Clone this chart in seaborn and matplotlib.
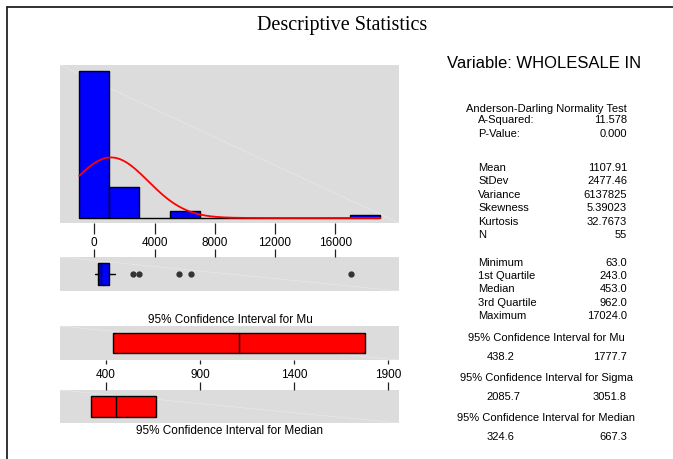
import numpy as np
import pandas as pd
import matplotlib
matplotlib.use("Agg")
import matplotlib.pyplot as plt
import seaborn as sns

# ---------------- data ----------------
bin_edges = [-1000, 1000, 3000, 5000, 7000, 9000, 11000, 13000, 15000, 17000, 19000]
bin_counts = [43, 9, 0, 2, 0, 0, 0, 0, 0, 1]
n_obs = 55
mean_val = 1107.91
stdev_val = 2477.46

box_whislo = 63.0
box_q1 = 243.0
box_median = 453.0
box_q3 = 962.0
box_whishi = 1400.0
box_outliers = [2550, 2970, 5620, 6420, 17024]

mu_ci = [438.2, 1777.7]
median_ci = [324.6, 667.3]

hist_ticks = [0, 4000, 8000, 12000, 16000]
ci_ticks = [400, 900, 1400, 1900]

stat_labels_ad = ["A-Squared:", "P-Value:"]
stat_values_ad = ["11.578", "0.000"]
stat_labels_mom = ["Mean", "StDev", "Variance", "Skewness", "Kurtosis", "N"]
stat_values_mom = ["1107.91", "2477.46", "6137825", "5.39023", "32.7673", "55"]
stat_labels_q = ["Minimum", "1st Quartile", "Median", "3rd Quartile", "Maximum"]
stat_values_q = ["63.0", "243.0", "453.0", "962.0", "17024.0"]
ci_titles = ["95% Confidence Interval for Mu", "95% Confidence Interval for Sigma",
             "95% Confidence Interval for Median"]
ci_values = [("438.2", "1777.7"), ("2085.7", "3051.8"), ("324.6", "667.3")]

# ---------------- figure ----------------
sns.set_theme(style="white")
plt.rcParams['font.family'] = ['Liberation Sans', 'DejaVu Sans']
plt.rcParams['text.color'] = 'black'
plt.rcParams['xtick.color'] = 'black'
plt.rcParams['xtick.labelcolor'] = 'black'
W, H = 673, 460
fig = plt.figure(figsize=(W / 100, H / 100), dpi=100)
fig.patch.set_facecolor("white")

PANEL = "#DCDCDC"

def fx(x):
    return x / W

def fy(y):
    return 1 - y / H

def add_ax(x0, y0, x1, y1):
    ax = fig.add_axes([fx(x0), fy(y1), (x1 - x0) / W, (y1 - y0) / H])
    ax.set_facecolor(PANEL)
    for s in ax.spines.values():
        s.set_visible(False)
    ax.plot([0, 1], [1, 0], transform=ax.transAxes, color="white", lw=0.5, alpha=0.35, zorder=0.5)
    return ax

# border lines (top & left)
fig.add_artist(plt.Line2D([fx(7), 1], [fy(7.5), fy(7.5)], color="#222222", lw=1.3))
fig.add_artist(plt.Line2D([fx(7), fx(7)], [fy(7.5), 0], color="#222222", lw=1.3))

fig.text(fx(342), fy(30), "Descriptive Statistics", family=["Liberation Serif", "DejaVu Serif"],
         fontsize=14.5, ha="center", va="baseline", color="black")

# ---------------- histogram ----------------
ax_h = add_ax(60, 66, 399, 224)
centers = [(a + b) / 2 for a, b in zip(bin_edges[:-1], bin_edges[1:])]
hist_df = pd.DataFrame({"value": centers, "count": bin_counts})
sns.histplot(data=hist_df, x="value", weights="count", bins=bin_edges, ax=ax_h,
             color="#0000FF", alpha=1.0, edgecolor="black", linewidth=1.0, zorder=2)
xs = np.linspace(bin_edges[0], bin_edges[-1], 400)
ys = n_obs * (bin_edges[1] - bin_edges[0]) * np.exp(-0.5 * ((xs - mean_val) / stdev_val) ** 2) / (stdev_val * np.sqrt(2 * np.pi))
sns.lineplot(x=xs, y=ys, ax=ax_h, color="#FF0000", lw=1.3, zorder=3)
ax_h.set_xlim(-2277, 20230)
ax_h.set_ylim(-1.46, 44.75)
ax_h.set_yticks([])
ax_h.set_xticks(hist_ticks)
ax_h.set_xticklabels([str(t) for t in hist_ticks], fontsize=8.5)
ax_h.tick_params(axis="x", direction="out", length=8, width=0.9, color="#222222", pad=1,
                 bottom=True, labelbottom=True)
ax_h.set_xlabel("")
ax_h.set_ylabel("")

# ---------------- boxplot ----------------
ax_b = add_ax(60, 258, 399, 292)
ax_b.bxp([{"whislo": box_whislo, "q1": box_q1, "med": box_median, "q3": box_q3,
           "whishi": box_whishi, "fliers": box_outliers}],
         vert=False, positions=[0.5], widths=0.65, patch_artist=True, showcaps=False,
         boxprops=dict(facecolor="#0000FF", edgecolor="black", linewidth=1.0),
         medianprops=dict(color="black", linewidth=1.0),
         whiskerprops=dict(color="black", linewidth=1.0),
         flierprops=dict(marker="o", markersize=3.5, markerfacecolor="#333333",
                         markeredgecolor="#333333"))
ax_b.set_xlim(-2277, 20230)
ax_b.set_ylim(0, 1)
ax_b.set_yticks([])
ax_b.set_xticks(hist_ticks)
ax_b.tick_params(axis="x", direction="out", length=6, width=0.9, color="#222222",
                 top=True, bottom=False, labeltop=False, labelbottom=False)

# ---------------- CI for Mu ----------------
fig.text(fx(230), fy(320), "95% Confidence Interval for Mu", fontsize=8.5, ha="center", va="center")
ax_m = add_ax(60, 327, 399, 361)
ci_df = pd.DataFrame({"lo": [mu_ci[0]], "width": [mu_ci[1] - mu_ci[0]]})
ax_m.barh([0.5], ci_df["width"], left=ci_df["lo"], height=0.6, color="#FF0000",
          edgecolor="black", linewidth=1.0, zorder=2)
ax_m.plot([mean_val, mean_val], [0.2, 0.8], color="black", lw=1.0, zorder=3)
ax_m.set_xlim(157.4, 1957)
ax_m.set_ylim(0, 1)
ax_m.set_yticks([])
ax_m.set_xticks(ci_ticks)
ax_m.set_xticklabels([str(t) for t in ci_ticks], fontsize=8.5)
ax_m.tick_params(axis="x", direction="out", length=3, width=0.9, color="#222222", pad=3,
                 bottom=True, labelbottom=True)

# ---------------- CI for Median ----------------
ax_d = add_ax(60, 391, 399, 424)
ax_d.barh([0.5], [median_ci[1] - median_ci[0]], left=[median_ci[0]], height=0.64, color="#FF0000",
          edgecolor="black", linewidth=1.0, zorder=2)
ax_d.plot([box_median, box_median], [0.18, 0.82], color="black", lw=1.0, zorder=3)
ax_d.set_xlim(157.4, 1957)
ax_d.set_ylim(0, 1)
ax_d.set_yticks([])
ax_d.set_xticks(ci_ticks)
ax_d.tick_params(axis="x", direction="out", length=5.5, width=0.9, color="#222222",
                 top=True, bottom=False, labeltop=False, labelbottom=False)
fig.text(fx(230), fy(431), "95% Confidence Interval for Median", fontsize=8.5, ha="center", va="center")

# ---------------- right text panel ----------------
fs = 8
fig.text(fx(447), fy(63.5), "Variable: WHOLESALE IN", fontsize=12, ha="left", va="center")
fig.text(fx(546), fy(109.5), "Anderson-Darling Normality Test", fontsize=fs, ha="center", va="center")
LX, RX = 478, 627
for i, (l, v) in enumerate(zip(stat_labels_ad, stat_values_ad)):
    y = 120.3 + i * 13.5
    fig.text(fx(LX), fy(y), l, fontsize=fs, ha="left", va="center")
    fig.text(fx(RX), fy(y), v, fontsize=fs, ha="right", va="center")
for i, (l, v) in enumerate(zip(stat_labels_mom, stat_values_mom)):
    y = 167.7 + i * 13.5
    fig.text(fx(LX), fy(y), l, fontsize=fs, ha="left", va="center")
    fig.text(fx(RX), fy(y), v, fontsize=fs, ha="right", va="center")
for i, (l, v) in enumerate(zip(stat_labels_q, stat_values_q)):
    y = 262.7 + i * 13.3
    fig.text(fx(LX), fy(y), l, fontsize=fs, ha="left", va="center")
    fig.text(fx(RX), fy(y), v, fontsize=fs, ha="right", va="center")
for i, (t, (a, b)) in enumerate(zip(ci_titles, ci_values)):
    yt = 337.7 + i * 40
    fig.text(fx(546), fy(yt), t, fontsize=fs, ha="center", va="center")
    fig.text(fx(486.5), fy(yt + 19.6), a, fontsize=fs, ha="left", va="center")
    fig.text(fx(627), fy(yt + 19.6), b, fontsize=fs, ha="right", va="center")

fig.savefig("out.png", dpi=100)
